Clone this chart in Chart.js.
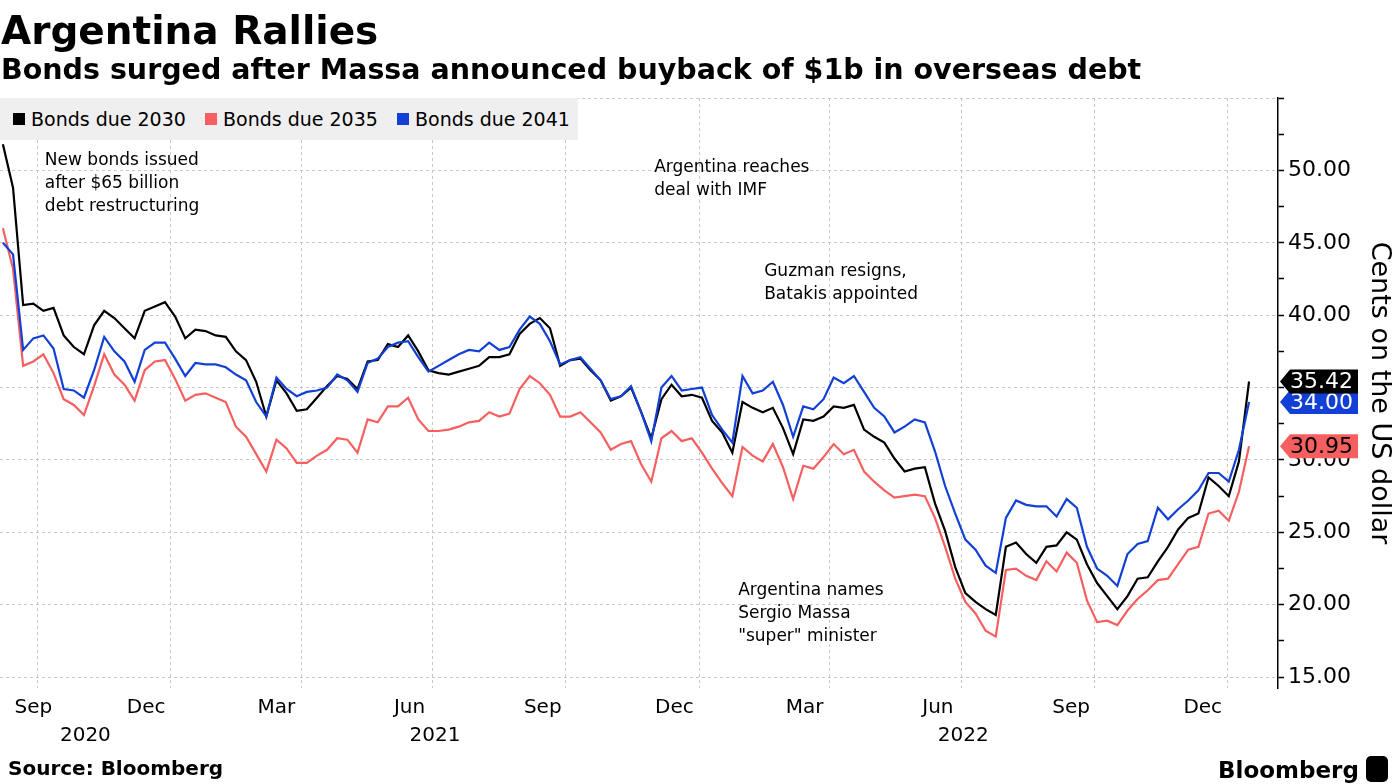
<!DOCTYPE html>
<html>
<head>
<meta charset="utf-8">
<script src="https://cdn.jsdelivr.net/npm/chart.js@4.4.1/dist/chart.umd.min.js"></script>
<style>
  html, body { margin: 0; padding: 0; background: #fff; }
  body { width: 1395px; height: 784px; position: relative; overflow: hidden; font-family: 'DejaVu Sans', sans-serif; color: #000; }
  #chart { position: absolute; left: 0; top: 0; }
  .txt { position: absolute; white-space: nowrap; line-height: 1; }
  #title { left: 1px; top: 11px; font-size: 39px; font-weight: bold; }
  #subtitle { left: 1px; top: 56px; font-size: 28.5px; font-weight: bold; }
  #source { left: 8px; top: 758px; font-size: 20px; font-weight: bold; }
  #logo { left: 1218px; top: 756px; font-size: 23px; font-weight: bold; }
  #logo .icon { display: inline-block; width: 22px; height: 26px; background: #000; border-radius: 5px; margin-left: 7px; vertical-align: -4px; }
  #legend { position: absolute; left: 0; top: 98px; width: 578px; height: 42px; background: #efefef; }
  #legend .item { position: absolute; top: 0; height: 42px; display: flex; align-items: center; font-size: 19px; }
  #legend .sw { width: 12px; height: 12px; margin-right: 6px; }
</style>
</head>
<body>
<canvas id="chart" width="1395" height="784"></canvas>
<div id="title" class="txt">Argentina Rallies</div>
<div id="subtitle" class="txt">Bonds surged after Massa announced buyback of $1b in overseas debt</div>
<div id="legend"></div>
<div id="source" class="txt">Source: Bloomberg</div>
<div id="logo" class="txt">Bloomberg<span class="icon"></span></div>
<script>
// weekly closes, cents on the dollar
const dates = [
  '2020-09-07','2020-09-14','2020-09-21','2020-09-28','2020-10-05','2020-10-12','2020-10-19','2020-10-26',
  '2020-11-02','2020-11-09','2020-11-16','2020-11-23','2020-11-30','2020-12-07','2020-12-14','2020-12-21','2020-12-28',
  '2021-01-04','2021-01-11','2021-01-18','2021-01-25','2021-02-01','2021-02-08','2021-02-15','2021-02-22',
  '2021-03-01','2021-03-08','2021-03-15','2021-03-22','2021-03-29','2021-04-05','2021-04-12','2021-04-19','2021-04-26',
  '2021-05-03','2021-05-10','2021-05-17','2021-05-24','2021-05-31','2021-06-07','2021-06-14','2021-06-21','2021-06-28',
  '2021-07-05','2021-07-12','2021-07-19','2021-07-26','2021-08-02','2021-08-09','2021-08-16','2021-08-23','2021-08-30',
  '2021-09-06','2021-09-13','2021-09-20','2021-09-27','2021-10-04','2021-10-11','2021-10-18','2021-10-25',
  '2021-11-01','2021-11-08','2021-11-15','2021-11-22','2021-11-29','2021-12-06','2021-12-13','2021-12-20','2021-12-27',
  '2022-01-03','2022-01-10','2022-01-17','2022-01-24','2022-01-31','2022-02-07','2022-02-14','2022-02-21','2022-02-28',
  '2022-03-07','2022-03-14','2022-03-21','2022-03-28','2022-04-04','2022-04-11','2022-04-18','2022-04-25',
  '2022-05-02','2022-05-09','2022-05-16','2022-05-23','2022-05-30','2022-06-06','2022-06-13','2022-06-20','2022-06-27',
  '2022-07-04','2022-07-11','2022-07-18','2022-07-25','2022-08-01','2022-08-08','2022-08-15','2022-08-22','2022-08-29',
  '2022-09-05','2022-09-12','2022-09-19','2022-09-26','2022-10-03','2022-10-10','2022-10-17','2022-10-24','2022-10-31',
  '2022-11-07','2022-11-14','2022-11-21','2022-11-28','2022-12-05','2022-12-12','2022-12-19','2022-12-26',
  '2023-01-02','2023-01-09','2023-01-16'
];
const bonds2030 = [
  51.8,48.8,40.7,40.8,40.3,40.5,38.6,37.8,37.3,39.3,40.3,39.8,39.1,38.4,40.3,40.6,40.9,
  39.9,38.4,39.0,38.9,38.6,38.5,37.5,36.9,35.4,33.0,35.5,34.6,33.4,33.5,34.3,35.1,35.8,
  35.6,34.9,36.8,36.9,38.0,37.8,38.6,37.5,36.2,36.0,35.9,36.1,36.3,36.5,37.1,37.1,37.3,
  38.7,39.4,39.8,39.1,36.5,36.9,37.0,36.2,35.5,34.1,34.4,35.0,33.3,31.5,34.2,35.2,34.4,34.5,
  34.3,32.7,31.9,30.5,34.0,33.6,33.3,33.6,32.2,30.4,32.8,32.7,33.0,33.7,33.6,33.8,
  32.1,31.6,31.2,30.1,29.2,29.4,29.5,27.0,25.1,22.6,20.8,20.2,19.7,19.3,24.0,24.3,23.5,
  22.9,24.0,24.1,25.0,24.5,22.8,21.5,20.6,19.7,20.6,21.8,21.9,23.0,24.0,25.2,26.0,26.3,
  28.8,28.2,27.5,29.9,35.42
];
const bonds2035 = [
  46.0,43.2,36.5,36.8,37.3,36.0,34.2,33.8,33.1,35.1,37.3,35.9,35.2,34.1,36.2,36.8,36.9,
  35.6,34.1,34.5,34.6,34.3,34.0,32.3,31.6,30.4,29.2,31.4,30.8,29.8,29.8,30.3,30.7,31.5,
  31.4,30.5,32.8,32.6,33.7,33.7,34.3,32.8,32.0,32.0,32.1,32.3,32.6,32.7,33.3,33.0,33.2,
  34.9,35.8,35.3,34.5,33.0,33.0,33.3,32.6,31.9,30.7,31.1,31.3,29.7,28.5,31.5,32.0,31.3,31.5,
  30.5,29.4,28.4,27.5,30.9,30.3,29.9,31.1,29.5,27.3,29.6,29.4,30.2,31.1,30.4,30.7,
  29.2,28.5,27.9,27.4,27.5,27.6,27.5,26.0,24.0,21.8,20.2,19.4,18.2,17.8,22.4,22.5,22.0,
  21.7,23.0,22.3,23.6,22.9,20.3,18.8,18.9,18.6,19.6,20.4,21.0,21.7,21.8,22.8,23.8,24.0,
  26.3,26.5,25.8,27.8,30.95
];
const bonds2041 = [
  45.0,44.2,37.6,38.4,38.6,37.7,34.9,34.8,34.3,36.2,38.5,37.5,36.8,35.4,37.6,38.1,38.1,
  37.0,35.8,36.7,36.6,36.6,36.4,35.9,35.5,34.0,33.0,35.7,34.9,34.4,34.7,34.8,35.0,35.9,
  35.5,34.7,36.7,37.0,37.8,38.1,38.2,37.1,36.1,36.5,36.9,37.3,37.6,37.5,38.1,37.6,37.8,
  39.0,39.9,39.4,38.2,36.6,36.9,37.1,36.3,35.5,34.2,34.4,35.1,33.3,31.3,35.0,35.8,34.8,34.9,
  35.0,33.1,32.1,31.2,35.8,34.6,34.8,35.4,33.8,31.6,33.7,33.5,34.2,35.7,35.3,35.8,
  34.7,33.6,33.0,31.9,32.3,32.8,32.6,30.6,28.2,26.3,24.5,23.8,22.7,22.2,26.0,27.2,26.9,
  26.8,26.8,26.1,27.3,26.7,24.0,22.5,22.0,21.3,23.5,24.2,24.4,26.7,25.9,26.6,27.2,27.9,
  29.1,29.1,28.5,30.7,34.00
];
const seriesNames = ['Bonds due 2030', 'Bonds due 2035', 'Bonds due 2041'];
const seriesColors = ['#000000', '#f65f5f', '#1240d6'];
const tagTextColors = ['#ffffff', '#000000', '#ffffff'];

const xMinDate = '2020-09-05';
const xMaxDate = '2023-02-05';
const gridDates = ['2020-10-01','2021-01-01','2021-04-01','2021-07-01','2021-10-01','2022-01-01','2022-04-01','2022-07-01','2022-10-01','2023-01-01'];
const monthTickDates = ['2020-09-15','2020-12-15','2021-03-15','2021-06-15','2021-09-15','2021-12-15','2022-03-15','2022-06-15','2022-09-15','2022-12-15'];
const monthTickLabels = ['Sep','Dec','Mar','Jun','Sep','Dec','Mar','Jun','Sep','Dec'];
const yearLabels = ['2020','2021','2022'];
const yTickValues = [15,17.5,20,22.5,25,27.5,30,32.5,35,37.5,40,42.5,45,47.5,50,52.5,55];
const yMin = 14.25, yMax = 55;

const annotations = [
  { date: '2020-10-06', value: 50.7, lines: ['New bonds issued', 'after $65 billion', 'debt restructuring'] },
  { date: '2021-12-01', value: 50.2, lines: ['Argentina reaches', 'deal with IMF'] },
  { date: '2022-02-15', value: 43.0, lines: ['Guzman resigns,', 'Batakis appointed'] },
  { date: '2022-01-28', value: 20.95, lines: ['Argentina names', 'Sergio Massa', '"super" minister'] }
];

const day0 = Date.parse('2020-09-07');
const day = d => (Date.parse(d) - day0) / 86400000;
const xMin = day(xMinDate), xMax = day(xMaxDate);

// legend
const legendEl = document.getElementById('legend');
seriesNames.forEach((name, i) => {
  const item = document.createElement('div');
  item.className = 'item';
  item.style.left = (13 + i * 192) + 'px';
  item.innerHTML = '<span class="sw" style="background:' + seriesColors[i] + '"></span>' + name;
  legendEl.appendChild(item);
});

const seriesValues = [bonds2030, bonds2035, bonds2041];
const drawOrder = [1, 2, 0];
const datasets = seriesValues.map((vals, i) => ({
  label: seriesNames[i],
  data: dates.map((d, j) => ({ x: day(d), y: vals[j] })),
  borderColor: seriesColors[i],
  borderWidth: 2.2,
  pointRadius: 0,
  tension: 0,
  order: drawOrder[i]
}));

const overlay = {
  id: 'overlay',
  afterDraw(chart) {
    const { ctx, scales: { x, y }, chartArea } = chart;
    ctx.save();
    // annotations
    ctx.fillStyle = '#000';
    ctx.font = '17px "DejaVu Sans"';
    ctx.textBaseline = 'middle';
    ctx.textAlign = 'left';
    annotations.forEach(a => {
      const px = x.getPixelForValue(day(a.date));
      const py = y.getPixelForValue(a.value);
      a.lines.forEach((ln, k) => ctx.fillText(ln, px, py + k * 23));
    });
    // last value tags
    const ax = chartArea.right;
    const tagOrder = [1, 2, 0];
    ctx.font = '22px "DejaVu Sans"';
    tagOrder.forEach(i => {
      const vals = seriesValues[i];
      const v = vals[vals.length - 1];
      const py = y.getPixelForValue(v);
      ctx.beginPath();
      ctx.moveTo(ax + 2, py);
      ctx.lineTo(ax + 12, py - 12);
      ctx.lineTo(ax + 80, py - 12);
      ctx.lineTo(ax + 80, py + 12);
      ctx.lineTo(ax + 12, py + 12);
      ctx.closePath();
      ctx.fillStyle = seriesColors[i];
      ctx.fill();
      ctx.fillStyle = tagTextColors[i];
      ctx.fillText(v.toFixed(2), ax + 12, py + 1);
    });
    ctx.restore();
  }
};

const gridColor = '#c8c8c8';
new Chart(document.getElementById('chart'), {
  type: 'line',
  data: { datasets },
  plugins: [overlay],
  options: {
    responsive: false,
    animation: false,
    layout: { padding: { top: 98, left: 0, right: 0, bottom: 34 } },
    plugins: { legend: { display: false }, tooltip: { enabled: false } },
    scales: {
      x: {
        type: 'linear', min: xMin, max: xMax, position: 'bottom', weight: 0,
        afterBuildTicks: s => { s.ticks = gridDates.map(d => ({ value: day(d) })); },
        afterFit: s => { s.height = 0; },
        ticks: { display: false },
        grid: { color: gridColor, drawTicks: false, lineWidth: 1 },
        border: { display: false, dash: [3, 3] }
      },
      x2: {
        type: 'linear', min: xMin, max: xMax, position: 'bottom', weight: 1,
        afterBuildTicks: s => {
          s.ticks = monthTickDates.map(d => ({ value: day(d) })).concat([{ value: xMax }]);
        },
        afterFit: s => { s.height = 32; },
        ticks: {
          autoSkip: false, maxRotation: 0, align: 'inner', padding: 8, color: '#000',
          font: { size: 20, family: 'DejaVu Sans' },
          callback: (v, i) => monthTickLabels[i] || ''
        },
        grid: { display: false, drawTicks: false },
        border: { display: false }
      },
      x3: {
        type: 'linear', min: xMin, max: xMax, position: 'bottom', weight: 2,
        afterBuildTicks: s => {
          s.ticks = yearLabels.map(yr => {
            const a = Math.max(xMin, day(yr + '-01-01'));
            const b = Math.min(xMax, day((+yr + 1) + '-01-01'));
            return { value: (a + b) / 2 };
          });
        },
        afterFit: s => { s.height = 30; },
        ticks: {
          autoSkip: false, maxRotation: 0, padding: 4, color: '#000',
          font: { size: 20, family: 'DejaVu Sans' },
          callback: (v, i) => yearLabels[i]
        },
        grid: { display: false, drawTicks: false },
        border: { display: false }
      },
      y: {
        type: 'linear', position: 'right', min: yMin, max: yMax,
        afterBuildTicks: s => { s.ticks = yTickValues.map(v => ({ value: v })); },
        afterFit: s => { s.width = 117; },
        ticks: {
          autoSkip: false, padding: 4, color: '#000',
          font: { size: 22, family: 'DejaVu Sans' },
          callback: v => (v % 5 === 0 && v <= 50) ? v.toFixed(2) : ''
        },
        grid: {
          color: c => (c.tick && c.tick.value % 5 === 0) ? gridColor : 'rgba(0,0,0,0)',
          drawTicks: true, tickLength: 6, tickColor: '#000', tickWidth: 1.5
        },
        border: { display: true, color: '#000', width: 1.5, dash: [3, 3] },
        title: {
          display: true, text: 'Cents on the US dollar', color: '#000',
          font: { size: 27, family: 'DejaVu Sans' }, padding: { top: 0, bottom: 2 }
        }
      }
    }
  }
});
</script>
</body>
</html>
